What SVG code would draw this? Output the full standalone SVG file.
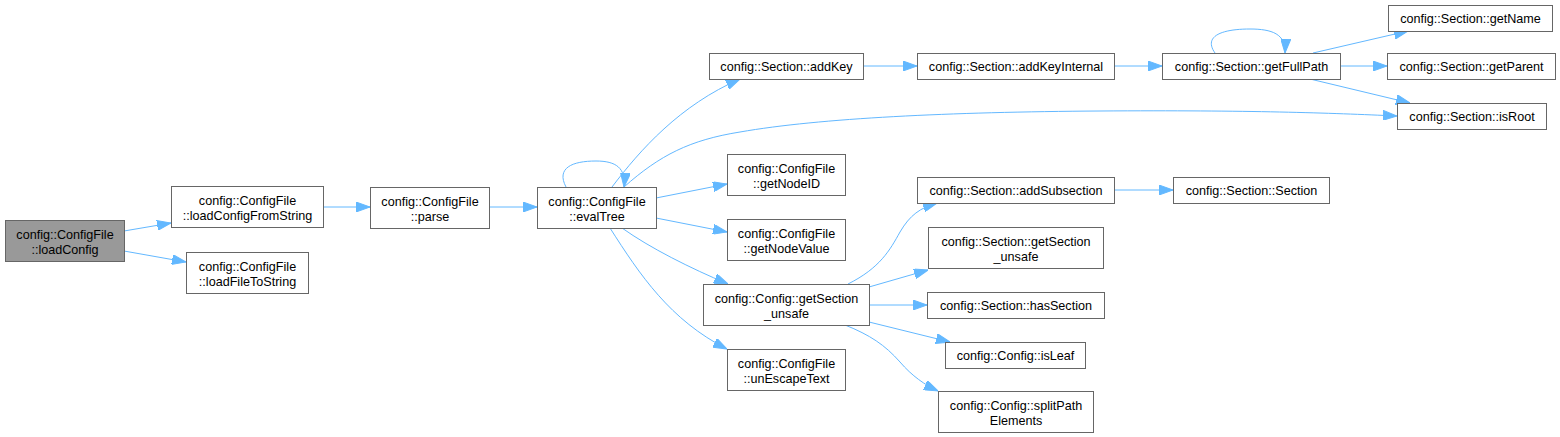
<svg xmlns="http://www.w3.org/2000/svg" width="1560" height="437" viewBox="0 0 1560 437">
<style>
.n rect{fill:#ffffff;stroke:#666666;stroke-width:1}
.n.root rect{fill:#999999}
.n text{font-family:"Liberation Sans",Arial,sans-serif;font-size:12.6px;fill:#000000;text-anchor:middle}
.e path{fill:none;stroke:#63b8ff;stroke-width:1;marker-end:url(#ah)}
</style>
<defs>
<marker id="ah" viewBox="0 0 14 10" refX="14" refY="5" markerWidth="14" markerHeight="10" markerUnits="userSpaceOnUse" orient="auto">
<path d="M0,0 L14,5 L0,10 z" fill="#63b8ff" stroke="#63b8ff" stroke-width="1"/>
</marker>
</defs>
<rect width="1560" height="437" fill="#ffffff"/>
<g id="connectors" class="e">
<path d="M124,231 L171,223"/>
<path d="M124,251 L186,262"/>
<path d="M323,207 L370,207"/>
<path d="M489,207 L537,207"/>
<path d="M566,187 C556,168 572,161 596,161 C616,161 626,168 624,187"/>
<path d="M612,187 C640,150 680,105 740,79"/>
<path d="M624,187 C660,155 690,140 740,132 C820,118 950,112 1100,111 C1250,110 1330,113 1397,116"/>
<path d="M656,198 L727,184"/>
<path d="M656,218 L727,232"/>
<path d="M622,228 C650,248 690,268 728,284"/>
<path d="M610,228 C640,275 670,320 727,349"/>
<path d="M863,66 L917,66"/>
<path d="M1114,66 L1162,66"/>
<path d="M1215,53 C1203,36 1222,29 1250,29 C1272,29 1286,34 1285,53"/>
<path d="M1313,53 L1408,31"/>
<path d="M1340,66 L1387,66"/>
<path d="M1310,79 L1410,103"/>
<path d="M1114,190 L1173,190"/>
<path d="M848,284 C880,268 890,250 900,232 C910,215 920,208 937,203"/>
<path d="M869,287 L928,270"/>
<path d="M869,305 L927,305"/>
<path d="M869,322 L950,342"/>
<path d="M845,325 C870,335 885,345 900,362 C912,376 925,385 938,391"/>
</g>
<g id="loadConfig" class="n root"><rect x="5.5" y="220.5" width="119" height="41"/><text x="65" y="238.5">config::ConfigFile</text><text x="65" y="253.5">::loadConfig</text></g>
<g id="loadConfigFromString" class="n"><rect x="171.5" y="186.5" width="152" height="41"/><text x="247.5" y="204.5">config::ConfigFile</text><text x="247.5" y="219.5">::loadConfigFromString</text></g>
<g id="loadFileToString" class="n"><rect x="186.5" y="252.5" width="122" height="41"/><text x="247.5" y="270.5">config::ConfigFile</text><text x="247.5" y="285.5">::loadFileToString</text></g>
<g id="parse" class="n"><rect x="370.5" y="187.5" width="119" height="41"/><text x="430" y="205.5">config::ConfigFile</text><text x="430" y="220.5">::parse</text></g>
<g id="evalTree" class="n"><rect x="537.5" y="187.5" width="119" height="41"/><text x="597" y="205.5">config::ConfigFile</text><text x="597" y="220.5">::evalTree</text></g>
<g id="addKey" class="n"><rect x="709.5" y="53.5" width="154" height="26"/><text x="786.5" y="71">config::Section::addKey</text></g>
<g id="getNodeID" class="n"><rect x="727.5" y="154.5" width="118" height="41"/><text x="786.5" y="172.5">config::ConfigFile</text><text x="786.5" y="187.5">::getNodeID</text></g>
<g id="getNodeValue" class="n"><rect x="727.5" y="219.5" width="118" height="41"/><text x="786.5" y="237.5">config::ConfigFile</text><text x="786.5" y="252.5">::getNodeValue</text></g>
<g id="configGetSectionUnsafe" class="n"><rect x="703.5" y="284.5" width="166" height="41"/><text x="786.5" y="302.5">config::Config::getSection</text><text x="786.5" y="317.5">_unsafe</text></g>
<g id="unEscapeText" class="n"><rect x="727.5" y="349.5" width="118" height="41"/><text x="786.5" y="367.5">config::ConfigFile</text><text x="786.5" y="382.5">::unEscapeText</text></g>
<g id="addKeyInternal" class="n"><rect x="917.5" y="53.5" width="197" height="26"/><text x="1016" y="71">config::Section::addKeyInternal</text></g>
<g id="addSubsection" class="n"><rect x="917.5" y="177.5" width="197" height="26"/><text x="1016" y="195">config::Section::addSubsection</text></g>
<g id="sectionGetSectionUnsafe" class="n"><rect x="928.5" y="227.5" width="175" height="41"/><text x="1016" y="245.5">config::Section::getSection</text><text x="1016" y="260.5">_unsafe</text></g>
<g id="hasSection" class="n"><rect x="927.5" y="292.5" width="177" height="26"/><text x="1016" y="310">config::Section::hasSection</text></g>
<g id="isLeaf" class="n"><rect x="945.5" y="342.5" width="140" height="26"/><text x="1015.5" y="360">config::Config::isLeaf</text></g>
<g id="splitPathElements" class="n"><rect x="938.5" y="391.5" width="155" height="41"/><text x="1016" y="409.5">config::Config::splitPath</text><text x="1016" y="424.5">Elements</text></g>
<g id="getFullPath" class="n"><rect x="1162.5" y="53.5" width="178" height="26"/><text x="1251.5" y="71">config::Section::getFullPath</text></g>
<g id="sectionCtor" class="n"><rect x="1173.5" y="177.5" width="156" height="26"/><text x="1251.5" y="195">config::Section::Section</text></g>
<g id="getName" class="n"><rect x="1388.5" y="5.5" width="164" height="26"/><text x="1470.5" y="23">config::Section::getName</text></g>
<g id="getParent" class="n"><rect x="1387.5" y="53.5" width="168" height="26"/><text x="1471.5" y="71">config::Section::getParent</text></g>
<g id="isRoot" class="n"><rect x="1397.5" y="103.5" width="149" height="26"/><text x="1472" y="121">config::Section::isRoot</text></g>
</svg>
